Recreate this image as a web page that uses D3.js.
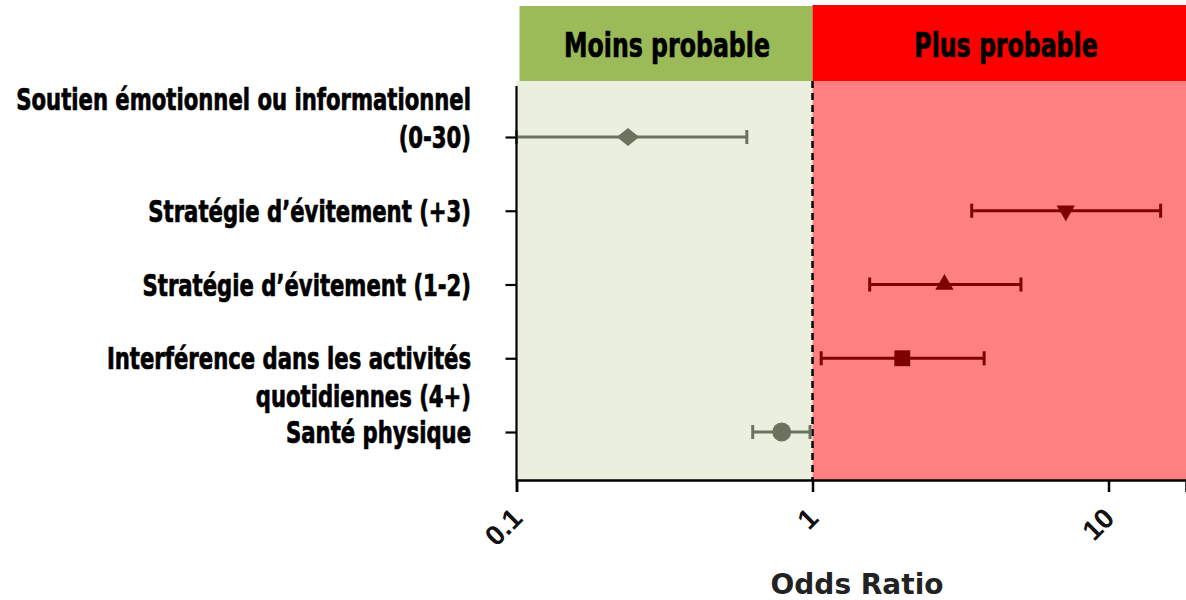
<!DOCTYPE html>
<html>
<head>
<meta charset="utf-8">
<script src="https://cdn.jsdelivr.net/npm/d3@7"></script>
<style>
  html, body { margin: 0; padding: 0; background: #fff; }
  svg { display: block; }
  .lab { font-family: "Liberation Sans Narrow", "DejaVu Sans Condensed", "Arial Narrow", sans-serif; font-weight: bold; stroke: #000; stroke-width: 0.7px; }
  .ax { font-family: "Liberation Sans", Arial, sans-serif; font-weight: bold; }
  .ttl { font-family: "DejaVu Sans", "Liberation Sans", sans-serif; font-weight: bold; }
</style>
</head>
<body>
<svg id="chart" width="1186" height="600"></svg>
<script>
// Forest plot: odds ratios with 95% confidence intervals
const categories = [
  ["Soutien émotionnel ou informationnel", "(0-30)"],
  ["Stratégie d’évitement (+3)"],
  ["Stratégie d’évitement (1-2)"],
  ["Interférence dans les activités", "quotidiennes (4+)"],
  ["Santé physique"]
];
const oddsRatio = [0.238, 7.17, 2.79, 2.01, 0.787];
const ciLow     = [0.10, 3.45, 1.56, 1.07, 0.628];
const ciHigh    = [0.60, 15.0, 5.06, 3.80, 0.981];
const markers   = ["diamond", "triangleDown", "triangle", "square", "circle"];
const tickValues = [0.1, 1, 10];
const tickLabels = ["0.1", "1", "10"];
const zoneLabels = ["Moins probable", "Plus probable"];
const axisTitle = "Odds Ratio";

const svg = d3.select("#chart");
const W = 1186;
const plot = { left: 516.5, right: W, top: 81, bottom: 480 };

const x = d3.scaleLog().domain([0.1, 18.27]).range([plot.left, plot.right]);
const rowKeys = categories.map((c, i) => i);
const y = d3.scalePoint().domain(rowKeys).range([137, 432]);

const greyCol = "#6b7260";
const redCol = "#7f0000";
const isAbove = i => oddsRatio[i] > 1;

// Condensed bold text: horizontally squeezed so the widest line fits its slot
function condensedText(parent, txt, px, py, size, anchor) {
  const g = parent.append("g").attr("transform", `translate(${px},${py})`);
  const t = g.append("text").attr("class", "lab").attr("font-size", size)
    .attr("text-anchor", anchor).text(txt);
  return { g, t };
}

// Header bands
svg.append("rect").attr("x", plot.left + 3).attr("y", 6)
  .attr("width", x(1) - plot.left - 3).attr("height", plot.top - 6).attr("fill", "#9bbb59");
svg.append("rect").attr("x", x(1)).attr("y", 5)
  .attr("width", plot.right - x(1)).attr("height", plot.top - 5).attr("fill", "#ff0000");
const h1 = condensedText(svg, zoneLabels[0], 667, 57, 34, "middle");
const h2 = condensedText(svg, zoneLabels[1], 1006, 57, 34, "middle");
const hk = 206 / h1.t.node().getComputedTextLength();
[h1, h2].forEach(h => h.t.attr("transform", `scale(${hk},1)`));

// Shaded zones
svg.append("rect").attr("x", plot.left).attr("y", plot.top)
  .attr("width", x(1) - plot.left).attr("height", plot.bottom - plot.top).attr("fill", "#ebefdf");
svg.append("rect").attr("x", x(1)).attr("y", plot.top)
  .attr("width", plot.right - x(1)).attr("height", plot.bottom - plot.top).attr("fill", "#ff8080");

// Reference line at OR = 1
svg.append("line").attr("x1", x(1)).attr("x2", x(1))
  .attr("y1", plot.top).attr("y2", plot.bottom)
  .attr("stroke", "#000").attr("stroke-width", 2.5).attr("stroke-dasharray", "7,5");

// Error bars
const rows = svg.append("g").selectAll("g").data(rowKeys).join("g");
rows.append("line")
  .attr("x1", i => x(ciLow[i])).attr("x2", i => x(ciHigh[i]))
  .attr("y1", i => y(i)).attr("y2", i => y(i))
  .attr("stroke", i => isAbove(i) ? redCol : greyCol).attr("stroke-width", 3);
[ciLow, ciHigh].forEach(arr => {
  rows.append("line")
    .attr("x1", i => x(arr[i])).attr("x2", i => x(arr[i]))
    .attr("y1", i => y(i) - 7).attr("y2", i => y(i) + 7)
    .attr("stroke", i => isAbove(i) ? redCol : greyCol).attr("stroke-width", 3);
});

// Point estimates
const symbolFor = {
  diamond: d3.symbol().type(d3.symbolDiamond2).size(320),
  triangleDown: d3.symbol().type(d3.symbolTriangle2).size(240),
  triangle: d3.symbol().type(d3.symbolTriangle2).size(240),
  square: d3.symbol().type(d3.symbolSquare2).size(320),
  circle: d3.symbol().type(d3.symbolCircle).size(280)
};
rows.append("path")
  .attr("d", i => symbolFor[markers[i]]())
  .attr("transform", i => `translate(${x(oddsRatio[i])},${y(i)})` + (markers[i] === "triangleDown" ? " rotate(180)" : "") +
    (markers[i] === "diamond" ? " scale(1,0.8)" : ""))
  .attr("fill", i => isAbove(i) ? redCol : greyCol);

// Y axis (category ticks)
const yAxis = svg.append("g").attr("transform", `translate(${plot.left},0)`)
  .call(d3.axisLeft(y).tickSize(11).tickFormat(""));
yAxis.select(".domain").attr("d", `M0,86V${plot.bottom}`).attr("stroke-width", 2.2);
yAxis.selectAll(".tick line").attr("stroke-width", 2.2);

// Category labels
const lineShift = [[-1, 0], [0], [0], [0, 1], [0]];
const lineGap = 38;
const labelG = svg.append("g");
const labs = [];
rowKeys.forEach(i => {
  categories[i].forEach((txt, k) => {
    labs.push(condensedText(labelG, txt, 471, y(i) + 11 + lineShift[i][k] * lineGap, 30, "end"));
  });
});
const lk = 455 / labs[0].t.node().getComputedTextLength();
labs.forEach(l => l.t.attr("transform", `scale(${lk},1)`));

// X axis
const xAxis = svg.append("g").attr("transform", `translate(0,${plot.bottom})`)
  .call(d3.axisBottom(x).tickValues(tickValues).tickSize(12)
    .tickFormat((d, i) => tickLabels[i]));
xAxis.select(".domain").attr("stroke-width", 2.5);
xAxis.selectAll(".tick line").attr("stroke-width", 2.5);
xAxis.selectAll(".tick text")
  .attr("class", "ax").attr("font-size", 28).attr("fill", "#111")
  .attr("text-anchor", "end").attr("dy", 0).attr("y", 0)
  .attr("transform", "translate(7,40) rotate(-45)");

svg.append("text").attr("class", "ttl").attr("x", 857).attr("y", 594)
  .attr("text-anchor", "middle").attr("font-size", 28).attr("fill", "#222")
  .text(axisTitle);
</script>
</body>
</html>
